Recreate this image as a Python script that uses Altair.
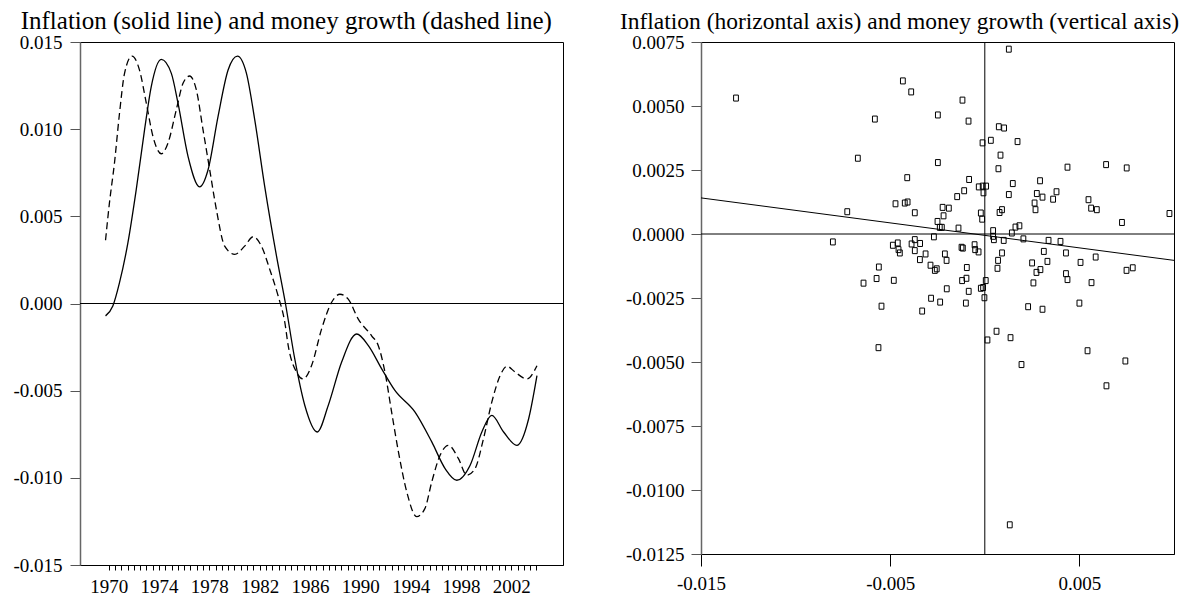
import altair as alt
import pandas as pd

# ---------------- data ----------------
inf_year = [1969.75, 1970.33, 1970.86, 1971.53, 1972.19, 1972.85, 1973.38, 1974.18, 1974.98,
            1975.51, 1976.31, 1977.23, 1977.90, 1978.69, 1979.49, 1980.23, 1980.95, 1981.61,
            1982.40, 1983.34, 1984.05, 1984.79, 1985.59, 1986.58, 1987.45, 1988.51, 1989.71,
            1990.64, 1991.70, 1992.75, 1994.35, 1995.68, 1996.74, 1997.67, 1998.73, 1999.66,
            2000.45, 2001.39, 2002.44, 2003.38, 2004.04]
inf_value = [-0.00071, -0.00014, 0.00120, 0.00349, 0.00653, 0.00996, 0.01243, 0.01400, 0.01320,
             0.01149, 0.00843, 0.00669, 0.00767, 0.01072, 0.01339, 0.01419, 0.01320, 0.01053,
             0.00672, 0.00272, 0.0, -0.00318, -0.00585, -0.00737, -0.00585, -0.00337, -0.00175,
             -0.00242, -0.00375, -0.00499, -0.00623, -0.00794, -0.00947, -0.01014, -0.00928, -0.00737,
             -0.00642, -0.00737, -0.00814, -0.00661, -0.00414]

mon_year = [1969.75, 1970.06, 1970.46, 1970.86, 1971.26, 1971.85, 1972.45, 1972.99, 1973.52,
            1974.18, 1974.71, 1975.37, 1975.91, 1976.43, 1976.97, 1977.50, 1978.03, 1978.56,
            1979.22, 1980.02, 1980.81, 1981.48, 1982.14, 1982.80, 1983.47, 1984.00, 1984.27,
            1984.93, 1985.46, 1986.12, 1986.92, 1987.71, 1988.38, 1989.04, 1989.84, 1990.90,
            1991.43, 1991.96, 1992.49, 1993.03, 1993.69, 1994.48, 1995.14, 1995.68, 1996.34,
            1997.01, 1997.80, 1998.46, 1999.12, 1999.79, 2000.45, 2001.11, 2001.65, 2002.31,
            2003.24, 2004.04]
mon_value = [0.00363, 0.00577, 0.00806, 0.01091, 0.01320, 0.01419, 0.01339, 0.01149, 0.00958,
             0.00859, 0.00920, 0.01110, 0.01263, 0.01305, 0.01225, 0.00996, 0.00767, 0.00539,
             0.00329, 0.00282, 0.00329, 0.00383, 0.00329, 0.00196, 0.00043, -0.00109, -0.00242,
             -0.00394, -0.00433, -0.00357, -0.00147, 0.00006, 0.00053, 0.00025, -0.00090, -0.00185,
             -0.00242, -0.00394, -0.00623, -0.00851, -0.01080, -0.01223, -0.01175, -0.01023, -0.00871,
             -0.00814, -0.00890, -0.00985, -0.00947, -0.00775, -0.00566, -0.00414, -0.00360, -0.00394,
             -0.00433, -0.00357]

scatter_inflation = [
    0.00127, -0.00433, -0.00389, -0.00118, -0.00581, -0.00248, -0.00086, 0.00074, 0.00102, -0.00012,
    0.00032, 0.00173, -0.00671, -0.00248, 0.00083, 0.00072, 0.00437, 0.00641, 0.00750, -0.00410,
    -0.00083, -0.00032, -0.00011, 0.00007, -0.00007, 0.00148, 0.00292, -0.00109, -0.00146, 0.00127,
    0.00275, 0.00305, 0.00379, 0.00361, 0.00548, 0.00562, 0.00592, -0.00472, -0.00423, -0.00408,
    -0.00370, -0.00727, -0.00223, -0.00190, -0.00218, -0.00250, -0.00238, -0.00227, -0.00139, -0.00021,
    -0.00014, 0.00078, 0.00091, 0.00263, 0.00268, 0.00725, 0.00976, 0.00162, 0.00183, 0.00044,
    0.00143, -0.00269, -0.00803, -0.00486, -0.00460, -0.00456, -0.00449, -0.00387, -0.00370, -0.00342,
    -0.00370, -0.00313, -0.00343, -0.00211, -0.00202, -0.00123, -0.00116, -0.00054, -0.00051, -0.00033,
    0.00044, 0.00048, 0.00100, 0.00204, 0.00337, 0.00400, 0.00091, 0.00070, 0.00067, 0.00312,
    0.00429, 0.00586, 0.00250, 0.00331, 0.00506, 0.00294, 0.00273, 0.00429, 0.00437, 0.00749,
    0.00782, -0.00560, -0.00287, -0.00264, -0.00254, -0.00095, -0.00572, -0.00481, -0.00641, -0.00097,
    -0.00120, 0.00005, 0.00257, 0.00564, -0.00201, -0.00085, -0.00021, -0.00009, -0.00284, -0.00236,
    -0.00002, -0.00100, -0.00546, -0.00331, 0.00229, 0.00305, 0.00500, 0.00062, 0.00014, 0.00136,
    -0.00562, 0.00543, 0.00194, 0.00743, 0.00643, -0.01315, 0.00132]
scatter_money = [
    0.00722, 0.00598, 0.00555, 0.00523, 0.00449, 0.00465, 0.00441, 0.00419, 0.00414, 0.00356,
    0.00366, 0.00361, 0.00296, 0.00279, 0.00308, 0.00255, 0.00261, 0.00271, 0.00258, 0.00220,
    0.00213, 0.00184, 0.00187, 0.00187, 0.00161, 0.00197, 0.00208, 0.00169, 0.00146, 0.00154,
    0.00158, 0.00144, 0.00165, 0.00136, 0.00134, 0.00101, 0.00095, 0.00118, 0.00121, 0.00125,
    0.00083, 0.00087, 0.00104, 0.00101, 0.00071, 0.00049, 0.00026, 0.00026, 0.00023, 0.00082,
    0.00058, 0.00084, 0.00095, 0.00121, 0.00095, 0.00045, 0.00080, 0.00027, 0.00032, 0.00013,
    0.00004, -0.00011, -0.00031, -0.00044, -0.00035, -0.00061, -0.00074, -0.00039, -0.00022, -0.00037,
    -0.00065, -0.00078, -0.00100, -0.00078, -0.00103, -0.00052, -0.00055, -0.00042, -0.00061, -0.00070,
    -0.00009, -0.00022, -0.00025, -0.00019, -0.00025, -0.00029, -0.00074, -0.00103, -0.00134, -0.00068,
    -0.00074, -0.00090, -0.00113, -0.00107, -0.00111, -0.00139, -0.00150, -0.00155, -0.00178, -0.00142,
    -0.00132, -0.00129, -0.00122, -0.00142, -0.00136, -0.00131, -0.00174, -0.00181, -0.00192, -0.00173,
    -0.00182, -0.00182, -0.00191, -0.00190, -0.00214, -0.00224, -0.00212, -0.00209, -0.00251, -0.00266,
    -0.00249, -0.00270, -0.00282, -0.00301, -0.00284, -0.00294, -0.00270, -0.00380, -0.00414, -0.00405,
    -0.00444, -0.00456, -0.00510, -0.00496, -0.00593, 0.00531, -0.01136]

fit_x = [-0.015, 0.010]
fit_y = [0.00141, -0.00103]

left_y_ticks = [-0.015, -0.010, -0.005, 0.0, 0.005, 0.010, 0.015]
left_x_ticks = [1970 + 0.5 * i for i in range(69)]
right_x_ticks = [-0.015, -0.005, 0.005]
right_y_ticks = [-0.0125, -0.0100, -0.0075, -0.0050, -0.0025, 0.0, 0.0025, 0.0050, 0.0075]

title_left = "Inflation (solid line) and money growth (dashed line)"
title_right = "Inflation (horizontal axis) and money growth (vertical axis)"

# ---------------- chart ----------------
SERIF = "Liberation Serif"
MINUS = "\u2212"
LBL = 19

inf_df = pd.DataFrame({"year": inf_year, "value": inf_value})
mon_df = pd.DataFrame({"year": mon_year, "value": mon_value})
zero_df = pd.DataFrame({"z": [0.0]})
sc_df = pd.DataFrame({"inf": scatter_inflation, "mon": scatter_money})
fit_df = pd.DataFrame({"inf": fit_x, "mon": fit_y})

xl_scale = alt.Scale(domain=[1967.72, 2006.11], nice=False, zero=False)
yl_scale = alt.Scale(domain=[-0.015, 0.015], nice=False, zero=False)

xl_axis = alt.Axis(values=left_x_ticks, title=None, grid=False,
                   labelExpr="datum.value % 4 == 2 ? format(datum.value, 'd') : ''",
                   tickSize=5, labelPadding=7, labelOverlap=False, labelFlush=False,
                   labelFont=SERIF, labelFontSize=LBL, labelColor="black",
                   tickColor="black", domainColor="black")
yl_axis = alt.Axis(values=left_y_ticks, title=None, grid=False,
                   labelExpr=f"replace(format(datum.value, '.3f'), '{MINUS}', '-')",
                   tickSize=10, labelPadding=8, minExtent=71, maxExtent=71,
                   labelOverlap=False, labelFont=SERIF, labelFontSize=LBL, labelColor="black",
                   tickColor="#555", domainColor="#666", domainWidth=1.5)

left_base_x = alt.X("year:Q", scale=xl_scale, axis=xl_axis)
left_base_y = alt.Y("value:Q", scale=yl_scale, axis=yl_axis)

zero_left = alt.Chart(zero_df).mark_rule(color="black", strokeWidth=1).encode(
    y=alt.Y("z:Q", scale=yl_scale, axis=yl_axis))
solid = alt.Chart(inf_df).mark_line(color="black", strokeWidth=1.3, interpolate="monotone").encode(
    x=left_base_x, y=left_base_y)
dashed = alt.Chart(mon_df).mark_line(color="black", strokeWidth=1.3, strokeDash=[7, 4],
                                     interpolate="monotone").encode(
    x=left_base_x, y=left_base_y)

left = alt.layer(zero_left, solid, dashed).properties(
    width=483, height=523,
    title=alt.TitleParams(title_left, fontSize=25, offset=-1))

xr_scale = alt.Scale(domain=[-0.015, 0.010], nice=False, zero=False)
yr_scale = alt.Scale(domain=[-0.0125, 0.0075], nice=False, zero=False)
xr_axis = alt.Axis(values=right_x_ticks, title=None, grid=False,
                   labelExpr=f"replace(format(datum.value, '.3f'), '{MINUS}', '-')",
                   tickSize=12, labelPadding=8, labelOverlap=False, labelFlush=False,
                   labelFont=SERIF, labelFontSize=LBL, labelColor="black",
                   tickColor="black", domainColor="black")
yr_axis = alt.Axis(values=right_y_ticks, title=None, grid=False,
                   labelExpr=f"replace(format(datum.value, '.4f'), '{MINUS}', '-')",
                   tickSize=10, labelPadding=7, minExtent=78, maxExtent=78,
                   labelOverlap=False, labelFont=SERIF, labelFontSize=LBL, labelColor="black",
                   tickColor="#555", domainColor="#666", domainWidth=1.5)

xr = alt.X("inf:Q", scale=xr_scale, axis=xr_axis)
yr = alt.Y("mon:Q", scale=yr_scale, axis=yr_axis)

hline = alt.Chart(zero_df).mark_rule(color="black", strokeWidth=1).encode(
    y=alt.Y("z:Q", scale=yr_scale, axis=yr_axis))
vline = alt.Chart(zero_df).mark_rule(color="black", strokeWidth=1).encode(
    x=alt.X("z:Q", scale=xr_scale, axis=xr_axis))
fit = alt.Chart(fit_df).mark_line(color="black", strokeWidth=1).encode(x=xr, y=yr)
pts = alt.Chart(sc_df).mark_point(shape="M-0.8,-1H0.8V1H-0.8Z", size=36, filled=False,
                                  color="black", strokeWidth=1, opacity=1).encode(x=xr, y=yr)

right = alt.layer(hline, vline, fit, pts).properties(
    width=473, height=512,
    title=alt.TitleParams(title_right, fontSize=23.5, offset=0))

chart = alt.hconcat(left, right, spacing=55).properties(padding=0).configure_view(
    stroke="black", strokeWidth=1
).configure_axis(
    labelFont=SERIF, labelFontSize=LBL, labelColor="black"
).configure_title(
    font=SERIF, fontWeight="normal", anchor="middle", frame="bounds", color="black"
)

chart.save("out.html", embed_options={"renderer": "svg", "actions": False})
